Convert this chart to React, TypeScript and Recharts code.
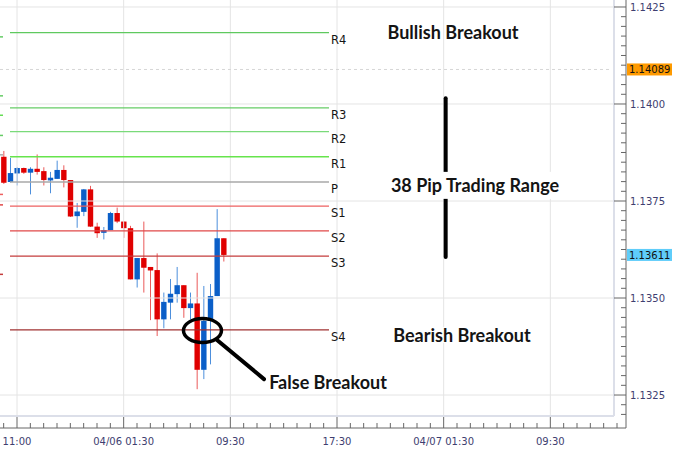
import React from "react";
import {
  ComposedChart,
  Bar,
  XAxis,
  YAxis,
  ReferenceLine,
  ReferenceDot,
} from "recharts";

// 30 minute candles, oldest first (index = candle number)
const opens = [
  1.13864, 1.13799, 1.13821, 1.13835, 1.13823, 1.13833, 1.13827, 1.13803, 1.13807, 1.1383,
  1.13804, 1.13711, 1.13722, 1.1378, 1.13684, 1.13668, 1.13675, 1.13719, 1.13697, 1.1368,
  1.13548, 1.13603, 1.1358, 1.13572, 1.13445, 1.13488, 1.1351, 1.13533, 1.13474, 1.13486,
  1.13315, 1.13441, 1.13505, 1.13654,
];
const highs = [
  1.13879, 1.13861, 1.13837, 1.13836, 1.13837, 1.1387, 1.13837, 1.13825, 1.13854, 1.13842,
  1.13804, 1.13745, 1.13781, 1.13789, 1.13694, 1.13683, 1.13722, 1.13733, 1.13698, 1.13686,
  1.13603, 1.13697, 1.1358, 1.13615, 1.13514, 1.13549, 1.1358, 1.13533, 1.13514, 1.13565,
  1.13531, 1.13536, 1.13729, 1.13654,
];
const lows = [
  1.13794, 1.13798, 1.1379, 1.1382, 1.13767, 1.13818, 1.1379, 1.1377, 1.13807, 1.13785,
  1.13709, 1.13681, 1.13711, 1.13683, 1.13655, 1.13651, 1.13675, 1.13693, 1.13655, 1.13548,
  1.13527, 1.13514, 1.13443, 1.13402, 1.13422, 1.13445, 1.13488, 1.13449, 1.13445, 1.13265,
  1.13291, 1.13329, 1.13505, 1.13594,
];
const closes = [
  1.13797, 1.13822, 1.13835, 1.13823, 1.13833, 1.13825, 1.13804, 1.1381, 1.1383, 1.13804,
  1.1371, 1.13723, 1.1378, 1.13684, 1.13667, 1.13675, 1.13719, 1.13697, 1.1368, 1.13548,
  1.13603, 1.13578, 1.13571, 1.13445, 1.1349, 1.13511, 1.13533, 1.13474, 1.13486, 1.13315,
  1.13441, 1.13505, 1.13654, 1.13611,
];

// pivot levels for the day
const pivotNames = ["R4", "R3", "R2", "R1", "P", "S1", "S2", "S3", "S4"];
const pivotValues = [1.14184, 1.1399, 1.13929, 1.13864, 1.13799, 1.13737, 1.13673, 1.13608, 1.13418];
const pivotColors = ["#5fc95f", "#66cc66", "#7ada7a", "#66e44c", "#a8a8a8", "#ee6060", "#e04848", "#c43c3c", "#a03232"];

// previous day's levels, only their ends show at the left edge
const prevPivotValues = [1.14173, 1.14021, 1.13971, 1.13919, 1.13869, 1.13767, 1.1374, 1.13561];
const prevPivotColors = ["#66cc66", "#66cc66", "#66dd55", "#66cc66", "#aaaaaa", "#ee6060", "#e04848", "#c43c3c"];

const xTickLabels = ["11:00", "04/06 01:30", "09:30", "17:30", "04/07 01:30", "09:30"];
const yMajorTicks = [1.1325, 1.135, 1.1375, 1.14, 1.1425];

const sessionHigh = 1.14089;
const lastPrice = 1.13611;

const data = opens.map((o, i) => ({
  i,
  open: o,
  high: highs[i],
  low: lows[i],
  close: closes[i],
  range: [lows[i], highs[i]],
}));

// layout (in axis units)
const X_MIN = -0.55;
const X_MAX = 93.35;
const Y_MIN = 1.13165;
const Y_MAX = 1.14268;
const FRAME_X = 91.55;
const FRAME_Y = 1.13196;
const PIVOT_START = 0.95;
const PIVOT_END = 48.8;

const xTicks = Array.from({ length: 47 }, (_, k) => k * 2);
const yTicks = Array.from({ length: 43 }, (_, k) => +(1.132 + k * 0.00025).toFixed(5));
const vGrid = [2, 18, 34, 50, 66, 82];

const axisFont = "'DejaVu Sans', sans-serif";
const noteFont = "Lato, 'Open Sans', sans-serif";

function Candle(props: any) {
  const { x, y, width, height, payload } = props;
  if (x == null || y == null || !payload) return null;
  const { open, close, high, low } = payload;
  const up = close >= open;
  const top0 = Math.min(y, y + height);
  const h = Math.abs(height);
  const py = (v: number) => top0 + ((high - v) / (high - low)) * h;
  const cx = x + width / 2;
  const bTop = py(Math.max(open, close));
  const bBot = py(Math.min(open, close));
  return (
    <g>
      <line x1={cx} x2={cx} y1={top0} y2={top0 + h} stroke={up ? "#4d8fdc" : "#ea5a5a"} strokeWidth={1} />
      <rect
        x={cx - 2.7}
        y={bTop}
        width={5.4}
        height={Math.max(bBot - bTop, 1.5)}
        fill={up ? "#0b5fc8" : "#e00000"}
      />
    </g>
  );
}

function YTick(props: any) {
  const { x, y, payload } = props;
  const v = payload.value;
  const major = Math.round(v * 100000) % 250 === 0;
  return (
    <g>
      <line x1={x} x2={x - (major ? 12 : 5)} y1={y} y2={y} stroke="#666" />
      {major && (
        <text x={x + 4} y={y + 4} fontSize={10} fontFamily={axisFont} fill="#3e3e70">
          {v.toFixed(4)}
        </text>
      )}
    </g>
  );
}

function XTick(props: any) {
  const { x, y, payload } = props;
  const i = payload.value;
  const major = (i - 2) % 16 === 0;
  return (
    <g>
      <line x1={x} x2={x} y1={y} y2={y - (major ? 11 : 5)} stroke="#666" />
      {major && (
        <text x={x} y={y + 17} textAnchor="middle" fontSize={10} fontFamily={axisFont} fill="#3e3e70">
          {xTickLabels[(i - 2) / 16]}
        </text>
      )}
    </g>
  );
}

function PriceTag({ cx, cy, value, bg }: any) {
  return (
    <g>
      <rect x={cx + 1} y={cy - 6} width={45} height={12} fill={bg} />
      <text x={cx + 3} y={cy + 4} fontSize={10} fontFamily={axisFont} fill="#111">
        {value.toFixed(5)}
      </text>
    </g>
  );
}

function Note({ cx, cy, text, boxed }: any) {
  return (
    <g>
      {boxed && <rect x={cx - 88} y={cy - 14} width={176} height={27} fill="#fff" />}
      <text
        x={cx}
        y={cy + 6}
        textAnchor="middle"
        fontSize={18}
        fontWeight={700}
        fontFamily={noteFont}
        fill="#141414"
        stroke="#fff"
        strokeWidth={2}
        paintOrder="stroke"
      >
        {text}
      </text>
    </g>
  );
}

const notes = [
  { text: "Bullish Breakout", x: 67.4, y: 1.14183, boxed: false },
  { text: "38 Pip Trading Range", x: 70.7, y: 1.13789, boxed: true },
  { text: "Bearish Breakout", x: 68.75, y: 1.13402, boxed: false },
  { text: "False Breakout", x: 48.65, y: 1.13281, boxed: false },
];

export default function App() {
  return (
    <div style={{ position: "absolute", left: 0, top: 0, background: "#fff" }}>
      <ComposedChart width={679} height={453} data={data} margin={{ top: 0, right: 0, bottom: 0, left: 0 }}>
        <XAxis
          dataKey="i"
          type="number"
          domain={[X_MIN, X_MAX]}
          allowDataOverflow
          ticks={xTicks}
          interval={0}
          tickSize={0}
          tickMargin={0}
          height={25}
          tickLine={false}
          axisLine={{ stroke: "#666" }}
          tick={<XTick />}
        />
        <YAxis
          orientation="right"
          type="number"
          domain={[Y_MIN, Y_MAX]}
          allowDataOverflow
          ticks={yTicks}
          interval={0}
          tickSize={0}
          tickMargin={0}
          width={53}
          tickLine={false}
          axisLine={{ stroke: "#666" }}
          tick={<YTick />}
        />

        {yMajorTicks.map((v) => (
          <ReferenceLine
            key={"hg" + v}
            segment={[{ x: X_MIN, y: v }, { x: FRAME_X, y: v }]}
            stroke="#e4e4e4"
            strokeWidth={1}
          />
        ))}
        {vGrid.map((i) => (
          <ReferenceLine
            key={"vg" + i}
            segment={[{ x: i, y: Y_MAX }, { x: i, y: FRAME_Y }]}
            stroke="#e4e4e4"
            strokeWidth={1}
          />
        ))}
        <ReferenceLine
          segment={[{ x: X_MIN, y: sessionHigh }, { x: FRAME_X - 0.3, y: sessionHigh }]}
          stroke="#d6d6d6"
          strokeDasharray="3 3"
        />
        <ReferenceLine segment={[{ x: FRAME_X, y: Y_MAX }, { x: FRAME_X, y: FRAME_Y }]} stroke="#dcdfe9" strokeWidth={2} />
        <ReferenceLine segment={[{ x: X_MIN, y: FRAME_Y }, { x: FRAME_X, y: FRAME_Y }]} stroke="#dcdfe9" strokeWidth={2} />

        {prevPivotValues.map((v, k) => (
          <ReferenceLine
            key={"pp" + k}
            segment={[{ x: X_MIN, y: v }, { x: -0.1, y: v }]}
            stroke={prevPivotColors[k]}
            strokeWidth={1.5}
          />
        ))}
        {pivotValues.map((v, k) => (
          <ReferenceLine
            key={"pv" + k}
            segment={[{ x: PIVOT_START, y: v }, { x: PIVOT_END, y: v }]}
            stroke={pivotColors[k]}
            strokeWidth={1.3}
          />
        ))}
        {pivotValues.map((v, k) => (
          <ReferenceDot
            key={"pl" + k}
            x={PIVOT_END}
            y={v}
            shape={(p: any) => (
              <text x={p.cx + 2} y={p.cy + 11} fontSize={11.5} fontFamily={axisFont} fill="#151515">
                {pivotNames[k]}
              </text>
            )}
          />
        ))}

        <Bar dataKey="range" barSize={5} shape={<Candle />} isAnimationActive={false} />

        <ReferenceLine
          segment={[{ x: 66.3, y: 1.14015 }, { x: 66.3, y: 1.13606 }]}
          stroke="#000"
          strokeWidth={4}
          strokeLinecap="round"
        />
        {notes.map((n) => (
          <ReferenceDot
            key={n.text}
            x={n.x}
            y={n.y}
            shape={(p: any) => <Note cx={p.cx} cy={p.cy} text={n.text} boxed={n.boxed} />}
          />
        ))}
        <ReferenceDot
          x={29.82}
          y={1.13416}
          shape={(p: any) => (
            <ellipse cx={p.cx} cy={p.cy} rx={19} ry={12} fill="none" stroke="#000" strokeWidth={3.5} />
          )}
        />
        <ReferenceLine
          segment={[{ x: 32.0, y: 1.13392 }, { x: 39.05, y: 1.13291 }]}
          stroke="#000"
          strokeWidth={4}
          strokeLinecap="round"
        />

        <ReferenceDot
          x={X_MAX}
          y={sessionHigh}
          shape={(p: any) => <PriceTag cx={p.cx} cy={p.cy} value={sessionHigh} bg="#ff9a00" />}
        />
        <ReferenceDot
          x={X_MAX}
          y={lastPrice}
          shape={(p: any) => <PriceTag cx={p.cx} cy={p.cy} value={lastPrice} bg="#5fcdfa" />}
        />
      </ComposedChart>
    </div>
  );
}
